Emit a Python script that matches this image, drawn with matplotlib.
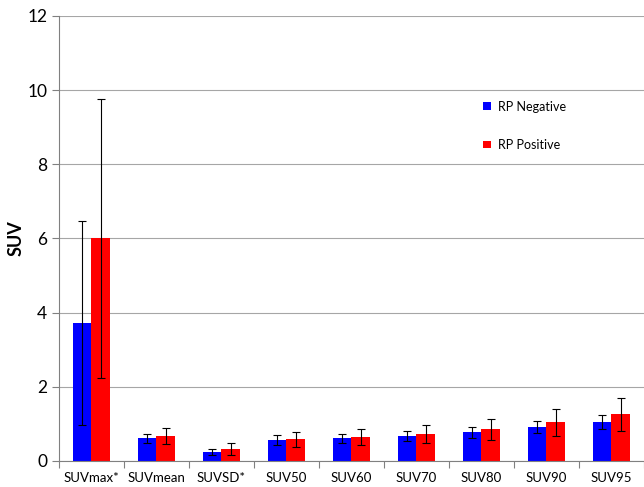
import matplotlib
matplotlib.use("Agg")
import matplotlib.pyplot as plt
import numpy as np

categories = ["SUVmax*", "SUVmean", "SUVSD*", "SUV50", "SUV60",
              "SUV70", "SUV80", "SUV90", "SUV95"]
neg_mean = [3.73, 0.61, 0.23, 0.57, 0.61, 0.67, 0.77, 0.91, 1.05]
neg_sd = [2.75, 0.12, 0.08, 0.13, 0.12, 0.13, 0.15, 0.16, 0.19]
pos_mean = [6.00, 0.67, 0.33, 0.58, 0.64, 0.73, 0.85, 1.04, 1.26]
pos_sd = [3.75, 0.21, 0.16, 0.19, 0.21, 0.24, 0.28, 0.37, 0.44]
y_ticks = [0, 2, 4, 6, 8, 10, 12]

plt.rcParams["font.family"] = ["Lato", "DejaVu Sans"]

fig = plt.figure(figsize=(6.44, 4.87), dpi=100)
ax = fig.add_axes([0.0916, 0.0534, 0.9084, 0.9138])

x = np.arange(len(categories))
w = 0.287
err_kw = dict(ecolor="black", elinewidth=0.8, capsize=3, capthick=0.8)
ax.bar(x - w / 2, neg_mean, w, yerr=neg_sd, color="#0000FF",
       label="RP Negative", error_kw=err_kw, zorder=2)
ax.bar(x + w / 2, pos_mean, w, yerr=pos_sd, color="#FF0000",
       label="RP Positive", error_kw=err_kw, zorder=2)

ax.set_ylim(0, 12)
ax.set_xlim(-0.5, len(categories) - 0.5)
ax.set_yticks(y_ticks)
ax.tick_params(axis="y", labelsize=12.5, length=5, color="#808080", width=0.8)
ax.yaxis.grid(True, color="#A6A6A6", linewidth=0.8, zorder=0)
ax.set_axisbelow(True)

# category boundary ticks, labels centred under each group
ax.set_xticks(np.arange(-0.5, len(categories) + 0.5, 1.0))
ax.set_xticklabels([])
ax.set_xticks(x, minor=True)
ax.set_xticklabels(categories, minor=True, fontsize=9.5)
ax.tick_params(axis="x", which="major", length=5, color="#808080", width=0.8)
ax.tick_params(axis="x", which="minor", length=0, pad=8)

for side in ("top", "right"):
    ax.spines[side].set_visible(False)
for side in ("left", "bottom"):
    ax.spines[side].set_color("#808080")
    ax.spines[side].set_linewidth(0.8)

ax.set_ylabel("SUV", fontsize=13, fontweight="bold", labelpad=2)

ax.legend(loc="upper left", bbox_to_anchor=(0.706, 0.835), frameon=False,
          fontsize=9, handlelength=0.6, handleheight=0.6,
          handletextpad=0.6, labelspacing=2.1)

fig.savefig("out.png", dpi=100)
